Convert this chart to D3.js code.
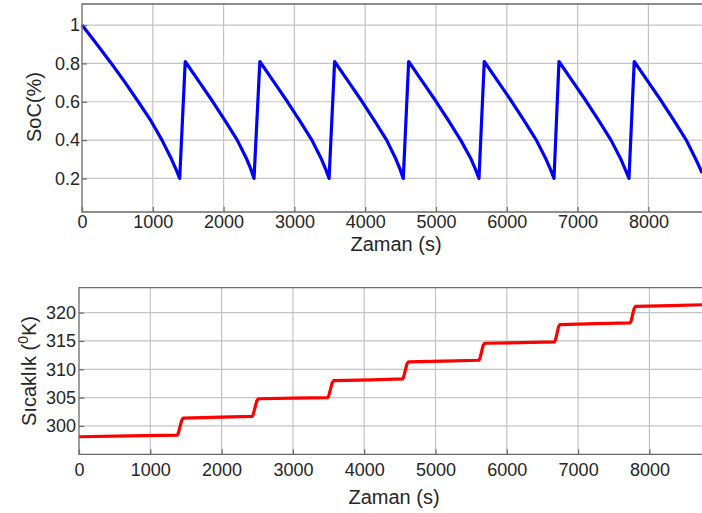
<!DOCTYPE html>
<html>
<head>
<meta charset="utf-8">
<script src="https://cdn.jsdelivr.net/npm/d3@7"></script>
<style>
  body { margin: 0; background: #fff; }
  text { font-family: "Liberation Sans", Arial, sans-serif; fill: #262626; }
</style>
</head>
<body>
<div id="chart"></div>
<script>
// Tick values
const xTicks = [0, 1000, 2000, 3000, 4000, 5000, 6000, 7000, 8000];
const socTicks = [0.2, 0.4, 0.6, 0.8, 1];
const tempTicks = [300, 305, 310, 315, 320];

// SoC curve (time in s)
const socTime = [
  0, 210, 415, 610, 795, 975, 1130, 1265, 1325, 1380,
  1458, 1663, 1848, 2023, 2193, 2328, 2383, 2430,
  2512, 2717, 2902, 3077, 3247, 3383, 3440, 3490,
  3568, 3773, 3958, 4133, 4303, 4435, 4490, 4538,
  4614, 4819, 5004, 5179, 5349, 5497, 5555, 5607,
  5682, 5887, 6072, 6247, 6417, 6555, 6614, 6667,
  6737, 6942, 7127, 7302, 7472, 7612, 7670, 7726,
  7800, 8005, 8190, 8365, 8535, 8670, 8760
];
const socValue = [
  1.0, 0.9, 0.8, 0.7, 0.6, 0.5, 0.4, 0.3, 0.25, 0.2,
  0.81, 0.7, 0.6, 0.5, 0.4, 0.3, 0.25, 0.2,
  0.81, 0.7, 0.6, 0.5, 0.4, 0.3, 0.25, 0.2,
  0.81, 0.7, 0.6, 0.5, 0.4, 0.3, 0.25, 0.2,
  0.81, 0.7, 0.6, 0.5, 0.4, 0.3, 0.25, 0.2,
  0.81, 0.7, 0.6, 0.5, 0.4, 0.3, 0.25, 0.2,
  0.81, 0.7, 0.6, 0.5, 0.4, 0.3, 0.25, 0.2,
  0.81, 0.7, 0.6, 0.5, 0.4, 0.3, 0.228
];

// Temperature curve (time in s, K)
const tempTime = [
  0, 700, 1380, 1395, 1440, 1462,
  2000, 2430, 2445, 2492, 2515,
  3000, 3490, 3505, 3550, 3572,
  4100, 4540, 4555, 4598, 4620,
  5100, 5610, 5625, 5668, 5690,
  6200, 6670, 6685, 6725, 6745,
  7250, 7730, 7745, 7785, 7805,
  8300, 8760
];
const tempValue = [
  298.1, 298.25, 298.4, 298.8, 301.0, 301.4,
  301.55, 301.7, 302.1, 304.4, 304.8,
  304.9, 305.0, 305.4, 307.6, 308.0,
  308.15, 308.3, 308.7, 310.9, 311.3,
  311.45, 311.6, 312.0, 314.2, 314.6,
  314.7, 314.85, 315.3, 317.5, 317.9,
  318.05, 318.2, 318.6, 320.7, 321.1,
  321.25, 321.4
];

const W = 702, H = 513;
const svg = d3.select("#chart").append("svg")
  .attr("width", W)
  .attr("height", H);

function panel(opts) {
  const x = d3.scaleLinear().domain([0, 8760]).range([opts.left, opts.right]);
  const y = d3.scaleLinear().domain(opts.yDomain).range([opts.bottom, opts.top]);
  const g = svg.append("g");

  // Grid
  g.selectAll(".vgrid").data(xTicks.slice(1)).enter().append("line")
    .attr("x1", d => x(d)).attr("x2", d => x(d))
    .attr("y1", opts.top).attr("y2", opts.bottom)
    .attr("stroke", "#c4c4c4").attr("stroke-width", 1.2);
  g.selectAll(".hgrid").data(opts.yTicks).enter().append("line")
    .attr("x1", opts.left).attr("x2", opts.right)
    .attr("y1", d => y(d)).attr("y2", d => y(d))
    .attr("stroke", "#c4c4c4").attr("stroke-width", 1.2);

  // Data line
  const pts = opts.t.map((t, i) => [t, opts.v[i]]);
  g.append("path")
    .datum(pts)
    .attr("fill", "none")
    .attr("stroke", opts.color)
    .attr("stroke-width", 3.2)
    .attr("stroke-linejoin", "round")
    .attr("d", d3.line().x(d => x(d[0])).y(d => y(d[1])));

  // Box (top, left, bottom)
  g.append("path")
    .attr("d", `M${opts.right + 5},${opts.top}H${opts.left}V${opts.bottom}H${opts.right + 5}`)
    .attr("fill", "none").attr("stroke", "#6a6a6a").attr("stroke-width", 1.3);

  // Axes with inward ticks
  const ax = g.append("g")
    .attr("transform", `translate(0,${opts.bottom})`)
    .call(d3.axisBottom(x).tickValues(xTicks).tickSize(-5).tickPadding(opts.xPad)
      .tickFormat(d3.format("d")));
  const ay = g.append("g")
    .attr("transform", `translate(${opts.left},0)`)
    .call(d3.axisLeft(y).tickValues(opts.yTicks).tickSize(-5).tickPadding(opts.yPad)
      .tickFormat(opts.fmt));
  [ax, ay].forEach(a => {
    a.select(".domain").remove();
    a.selectAll(".tick line").attr("stroke", "#6a6a6a").attr("stroke-width", 1.2);
    a.selectAll(".tick text").attr("font-size", 18)
      .attr("font-family", "'Liberation Sans', Arial, sans-serif").attr("fill", "#262626");
  });

  return { x, y, g };
}

// Top: SoC
panel({
  left: 82, right: 702.2, top: 4, bottom: 212,
  yDomain: [0.025, 1.11], yTicks: socTicks,
  t: socTime, v: socValue, color: "#0000ff",
  fmt: d3.format("~g"), xPad: 3, yPad: 2
});
svg.append("text")
  .attr("x", 396).attr("y", 251)
  .attr("text-anchor", "middle").attr("font-size", 20)
  .text("Zaman (s)");
svg.append("text")
  .attr("transform", "translate(41,107) rotate(-90)")
  .attr("text-anchor", "middle").attr("font-size", 20)
  .text("SoC(%)");

// Bottom: temperature
panel({
  left: 79, right: 703.6, top: 287.7, bottom: 454.3,
  yDomain: [295, 324.4], yTicks: tempTicks,
  t: tempTime, v: tempValue, color: "#ff0000",
  fmt: d3.format("d"), xPad: 9, yPad: 3
});
svg.append("text")
  .attr("x", 394).attr("y", 504)
  .attr("text-anchor", "middle").attr("font-size", 20)
  .text("Zaman (s)");
const tl = svg.append("text")
  .attr("transform", "translate(36,371) rotate(-90)")
  .attr("text-anchor", "middle").attr("font-size", 20);
tl.append("tspan").text("Sıcaklık (");
tl.append("tspan").attr("font-size", 14).attr("dy", -8).text("0");
tl.append("tspan").attr("dy", 8).text("K)");
</script>
</body>
</html>
